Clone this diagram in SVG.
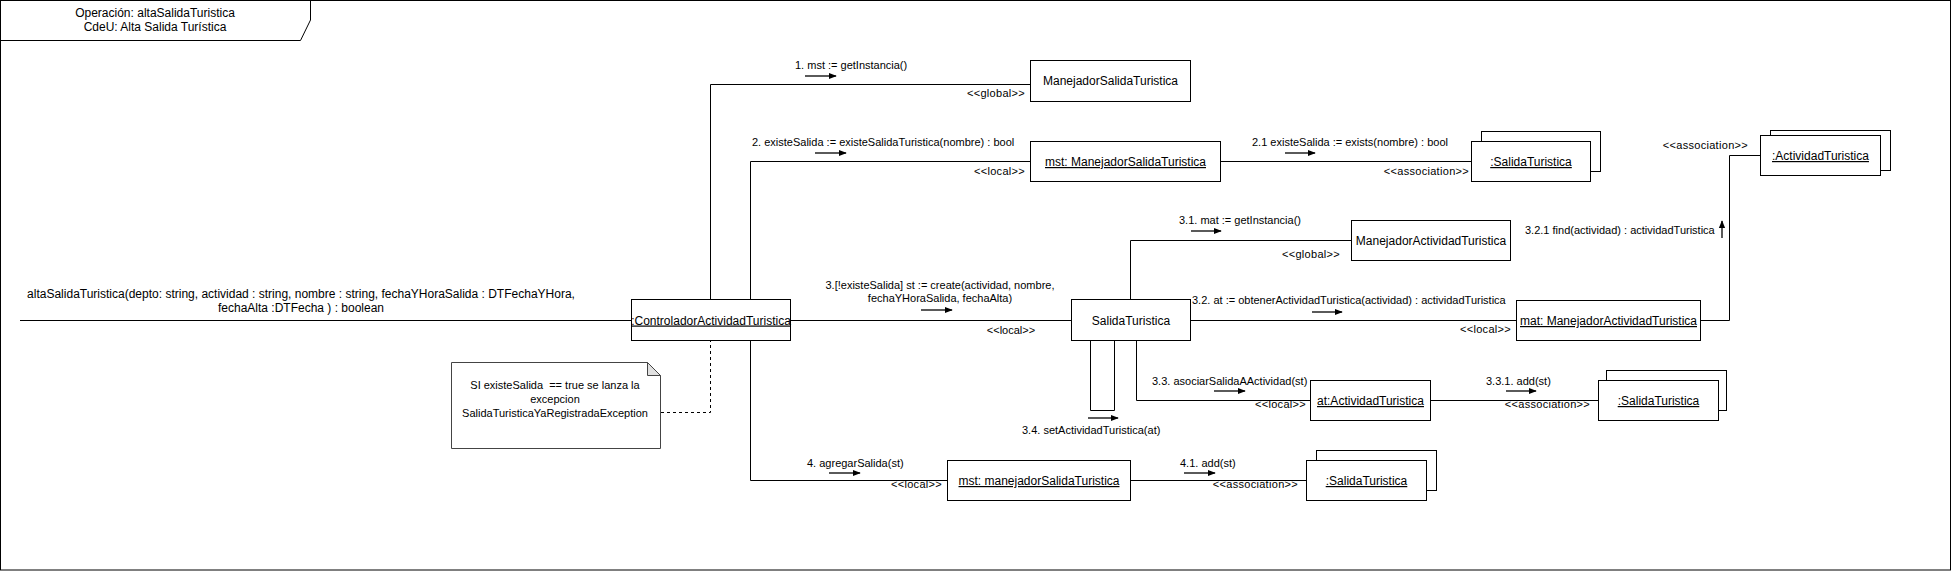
<svg xmlns="http://www.w3.org/2000/svg" width="1952" height="571" viewBox="0 0 1952 571">
<style>
text{font-family:"Liberation Sans",Arial,sans-serif;fill:#000}
.n{font-size:12px;text-anchor:middle}
.u{text-decoration:underline}
.l{font-size:11px}
.s{font-size:11px;text-anchor:end;letter-spacing:0.3px}
.box{fill:#fff;stroke:#000;stroke-width:1}
.c{fill:none;stroke:#000;stroke-width:1}
.ar{fill:none;stroke:#000;stroke-width:1.3;marker-end:url(#ah)}
</style>
<defs>
<marker id="ah" viewBox="0 0 10 10" refX="9" refY="5" markerWidth="8" markerHeight="8" markerUnits="userSpaceOnUse" orient="auto">
<path d="M0,1 L10,5 L0,9 Z" fill="#000"/>
</marker>
</defs>
<rect x="0.5" y="0.5" width="1950" height="569.5" fill="#fff" stroke="#000"/>
<g id="frame-title">
<path d="M0.5,0.5 H310.5 V20 L300.5,40.5 H0.5" fill="none" stroke="#000"/>
<text class="n" x="155" y="17">Operación: altaSalidaTuristica</text>
<text class="n" x="155" y="31">CdeU: Alta Salida Turística</text>
</g>
<g id="connectors">
<path class="c" d="M20,320.5 H631"/>
<path class="c" d="M790,320.5 H1071"/>
<path class="c" d="M710.5,299 V84.5 H1030"/>
<path class="c" d="M750.5,299 V161.5 H1030"/>
<path class="c" d="M1220,161.5 H1471"/>
<path class="c" d="M750.5,340 V480.5 H947"/>
<path class="c" d="M1130,480.5 H1306"/>
<path class="c" d="M1130.5,299 V240.5 H1351"/>
<path class="c" d="M1191,320.5 H1516"/>
<path class="c" d="M1700,320.5 H1729.5 V155.5 H1760"/>
<path class="c" d="M1090.5,340 V410.5 H1114.5 V340"/>
<path class="c" d="M1136.5,340 V400.5 H1310"/>
<path class="c" d="M1430,400.5 H1598"/>
<path class="c" d="M661,412.5 H710.5 V340" stroke-dasharray="3,3"/>
<path class="ar" d="M805,76 H836"/>
<path class="ar" d="M815,153 H846"/>
<path class="ar" d="M1285,153 H1315"/>
<path class="ar" d="M921,310 H952"/>
<path class="ar" d="M1191,231 H1221"/>
<path class="ar" d="M1312,312 H1342"/>
<path class="ar" d="M1214,391 H1245"/>
<path class="ar" d="M1506,391 H1536"/>
<path class="ar" d="M1088,418 H1118"/>
<path class="ar" d="M829,473 H860"/>
<path class="ar" d="M1184,473 H1215"/>
<path class="ar" d="M1722,238 V221"/>
<text class="n" x="301" y="298">altaSalidaTuristica(depto: string, actividad : string, nombre : string, fechaYHoraSalida : DTFechaYHora,</text>
<text class="n" x="301" y="312">fechaAlta :DTFecha ) : boolean</text>
<text class="l" x="795" y="69">1. mst := getInstancia()</text>
<text class="s" x="1025" y="97">&lt;&lt;global&gt;&gt;</text>
<text class="l" x="752" y="146">2. existeSalida := existeSalidaTuristica(nombre) : bool</text>
<text class="s" x="1025" y="175">&lt;&lt;local&gt;&gt;</text>
<text class="l" x="1252" y="146">2.1 existeSalida := exists(nombre) : bool</text>
<text class="s" x="1469" y="175">&lt;&lt;association&gt;&gt;</text>
<text class="l" x="940" y="289" text-anchor="middle">3.[!existeSalida] st := create(actividad, nombre,</text>
<text class="l" x="940" y="302" text-anchor="middle">fechaYHoraSalida, fechaAlta)</text>
<text class="l" x="1011" y="334" text-anchor="middle">&lt;&lt;local&gt;&gt;</text>
<text class="l" x="1179" y="224">3.1. mat := getInstancia()</text>
<text class="s" x="1340" y="258">&lt;&lt;global&gt;&gt;</text>
<text class="l" x="1192" y="304">3.2. at := obtenerActividadTuristica(actividad) : actividadTuristica</text>
<text class="s" x="1511" y="333">&lt;&lt;local&gt;&gt;</text>
<text class="l" x="1525" y="234">3.2.1 find(actividad) : actividadTuristica</text>
<text class="s" x="1748" y="149">&lt;&lt;association&gt;&gt;</text>
<text class="l" x="1152" y="385">3.3. asociarSalidaAActividad(st)</text>
<text class="s" x="1306" y="408">&lt;&lt;local&gt;&gt;</text>
<text class="l" x="1486" y="385">3.3.1. add(st)</text>
<text class="s" x="1590" y="408">&lt;&lt;association&gt;&gt;</text>
<text class="l" x="1022" y="434">3.4. setActividadTuristica(at)</text>
<text class="l" x="807" y="467">4. agregarSalida(st)</text>
<text class="s" x="942" y="488">&lt;&lt;local&gt;&gt;</text>
<text class="l" x="1180" y="467">4.1. add(st)</text>
<text class="s" x="1298" y="488">&lt;&lt;association&gt;&gt;</text>
</g>
<g id="controlador">
<rect class="box" x="631.5" y="299.5" width="159" height="41"/>
<text class="n u" x="711" y="324.5">:ControladorActividadTuristica</text>
</g>
<g id="manejadorSalidaTuristica">
<rect class="box" x="1030.5" y="60.5" width="160" height="41"/>
<text class="n" x="1110.5" y="85">ManejadorSalidaTuristica</text>
</g>
<g id="mst-manejadorSalidaTuristica">
<rect class="box" x="1030.5" y="141.5" width="190" height="40"/>
<text class="n u" x="1125.5" y="166">mst: ManejadorSalidaTuristica</text>
</g>
<g id="salidaTuristica-multi-1">
<rect class="box" x="1481.5" y="131.5" width="119" height="40"/>
<rect class="box" x="1471.5" y="141.5" width="119" height="40"/>
<text class="n u" x="1531" y="166">:SalidaTuristica</text>
</g>
<g id="actividadTuristica-multi">
<rect class="box" x="1770.5" y="130.5" width="120" height="40"/>
<rect class="box" x="1760.5" y="135.5" width="120" height="40"/>
<text class="n u" x="1820.5" y="160">:ActividadTuristica</text>
</g>
<g id="salidaTuristica">
<rect class="box" x="1071.5" y="299.5" width="119" height="41"/>
<text class="n" x="1131" y="324.5">SalidaTuristica</text>
</g>
<g id="manejadorActividadTuristica">
<rect class="box" x="1351.5" y="220.5" width="159" height="40"/>
<text class="n" x="1431" y="245">ManejadorActividadTuristica</text>
</g>
<g id="mat-manejadorActividadTuristica">
<rect class="box" x="1516.5" y="300.5" width="184" height="40"/>
<text class="n u" x="1608.5" y="325">mat: ManejadorActividadTuristica</text>
</g>
<g id="at-actividadTuristica">
<rect class="box" x="1310.5" y="380.5" width="120" height="40"/>
<text class="n u" x="1370.5" y="405">at:ActividadTuristica</text>
</g>
<g id="salidaTuristica-multi-2">
<rect class="box" x="1606.5" y="370.5" width="120" height="40"/>
<rect class="box" x="1598.5" y="380.5" width="120" height="40"/>
<text class="n u" x="1658.5" y="405">:SalidaTuristica</text>
</g>
<g id="mst-manejadorSalidaTuristica-2">
<rect class="box" x="947.5" y="460.5" width="183" height="40"/>
<text class="n u" x="1039" y="485">mst: manejadorSalidaTuristica</text>
</g>
<g id="salidaTuristica-multi-3">
<rect class="box" x="1316.5" y="450.5" width="120" height="40"/>
<rect class="box" x="1306.5" y="460.5" width="120" height="40"/>
<text class="n u" x="1366.5" y="485">:SalidaTuristica</text>
</g>
<g id="note">
<path d="M451.5,362.5 H647.5 L660.5,375.5 V448.5 H451.5 Z" fill="#fff" stroke="#444"/>
<path d="M647.5,362.5 V375.5 H660.5 Z" fill="#e0e0e0" stroke="#444"/>
<text class="l" x="555" y="389" text-anchor="middle" xml:space="preserve">SI existeSalida  == true se lanza la</text>
<text class="l" x="555" y="403" text-anchor="middle">excepcion</text>
<text class="l" x="555" y="417" text-anchor="middle">SalidaTuristicaYaRegistradaException</text>
</g>
</svg>
